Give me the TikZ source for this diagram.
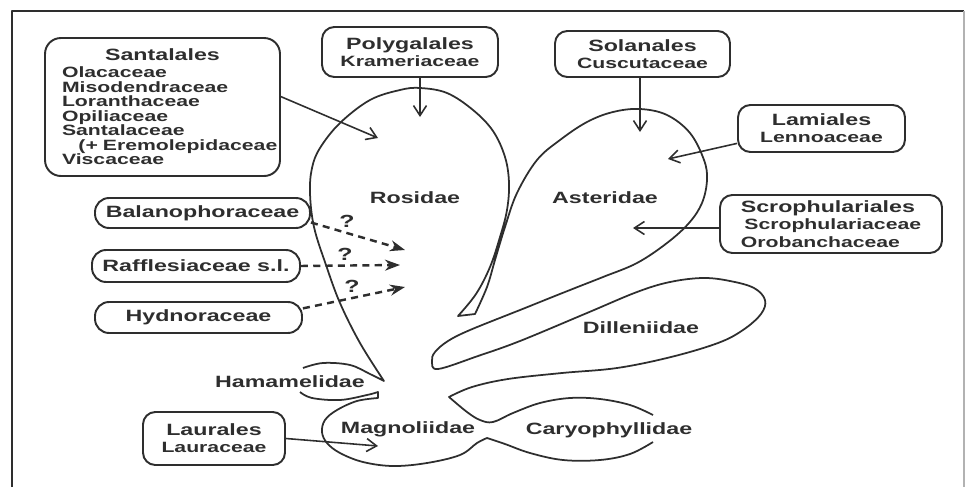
\documentclass[tikz,border=0pt]{standalone}
\usepackage{fontspec}
\usepackage{tikz}
\usetikzlibrary{arrows.meta}
\newfontfamily\botfont{Liberation Sans}[FakeStretch=1.42]
\colorlet{ink}{black!82}
\newcommand{\ordr}[1]{{\fontsize{9.3}{9.8}\selectfont #1}}

\begin{document}
\begin{tikzpicture}[x=0.02cm, y=-0.02cm, line join=round,
    taxbox/.style={rectangle, rounded corners=7pt, draw=ink, line width=1.1pt,
        inner sep=0pt, align=center, text=ink,
        font=\botfont\bfseries\fontsize{8.5}{9.8}\selectfont},
    famline/.style={taxbox, rounded corners=8pt,
        font=\botfont\bfseries\fontsize{9.3}{9.8}\selectfont},
    subclass/.style={text=ink, inner sep=0pt,
        font=\botfont\bfseries\fontsize{9.3}{10}\selectfont},
    query/.style={text=ink, inner sep=0pt,
        font=\botfont\bfseries\fontsize{10}{10}\selectfont},
    cladeline/.style={draw=ink, line width=1pt},
    arr/.style={-{Straight Barb[length=2mm,width=2.6mm]}, draw=ink, line width=0.9pt},
    maybe/.style={-{Stealth[length=3mm,width=2.2mm]}, draw=ink, line width=1.4pt,
        dash pattern=on 4pt off 3pt}
]
\useasboundingbox (0,0) rectangle (967,487);

% frame
\draw[ink, line width=1.1pt] (12,487) -- (12,11) -- (964,11);
\draw[black!30, line width=0.8pt] (964,11) -- (964,487);

% outline of the subclasses
\draw[cladeline] plot[smooth, tension=0.6] coordinates {(303,368) (323,363) (350,365) (370,374) (384,381)}
  -- plot[smooth, tension=0.6] coordinates {(384,381) (360,343) (340,303) (326,265) (314,227) (310,193)
     (312,168) (320,148) (340,123) (370,100) (400,90) (420,88) (447,93) (473,110) (493,131)
     (505,157) (509,183) (507,210) (500,237) (490,267) (476,294) (458,316)}
  -- (475,314)
  -- plot[smooth, tension=0.6] coordinates {(475,314) (487,287) (495,260) (505,227) (517,193)
     (537,160) (560,140) (587,122) (613,112) (640,109) (667,115) (690,133) (704,160) (707,180)
     (702,203) (689,223) (667,243) (637,263) (603,277) (570,290) (520,310) (470,330) (448,341)
     (435,352) (432,361) (438,369) (478,356) (520,341) (587,313) (637,292) (670,282) (703,278)
     (730,281) (754,288) (765,300) (761,314) (743,330) (718,343) (671,357) (617,368) (562,373)
     (508,379) (472,387) (449,397)}
  -- plot[smooth, tension=0.6] coordinates {(449,397) (467,412) (480,420) (493,422) (513,413)
     (540,403) (570,398) (600,399) (630,405) (653,415)};
\draw[cladeline] plot[smooth, tension=0.6] coordinates {(653,442) (630,454) (600,460) (563,460)
     (530,453) (505,444) (487,438)}
  -- plot[smooth, tension=0.6] coordinates {(487,438) (477,443) (460,455) (427,463) (393,466)
     (363,462) (340,453) (327,443) (322,432) (325,420) (337,410) (357,401) (378,398)}
  -- (378,392)
  -- plot[smooth, tension=0.6] coordinates {(378,392) (367,395) (340,400) (312,398) (300,392)};

% subclass names
\node[subclass] (rosidae) at (415,198) {Rosidae};
\node[subclass] (asteridae) at (605,198) {Asteridae};
\node[subclass] (dilleniidae) at (641,328) {Dilleniidae};
\node[subclass] (hamamelidae) at (290,382) {Hamamelidae};
\node[subclass] (magnoliidae) at (408,429) {Magnoliidae};
\node[subclass] (caryophyllidae) at (609,430) {Caryophyllidae};

% orders and families
\node[taxbox, minimum width=4.7cm, minimum height=2.76cm, rounded corners=9pt,
    align=left, text width=4.02cm, font=\botfont\bfseries\fontsize{8.5}{8.3}\selectfont]
    (santalales) at (162.5,107)
    {\hfill\ordr{Santalales}\hfill\null\\[1.2pt] Olacaceae\\ Misodendraceae\\ Loranthaceae\\
     Opiliaceae\\ Santalaceae\\ \hspace*{1.1em}\mbox{(+ Eremolepidaceae}\\ Viscaceae};
\node[taxbox, minimum width=3.52cm, minimum height=1cm] (polygalales) at (410,52)
    {\ordr{Polygalales}\\ Krameriaceae};
\node[taxbox, minimum width=3.5cm, minimum height=0.92cm] (solanales) at (642.5,54)
    {\ordr{Solanales}\\ Cuscutaceae};
\node[taxbox, minimum width=3.34cm, minimum height=0.94cm] (lamiales) at (821.5,128.5)
    {\ordr{Lamiales}\\ Lennoaceae};
\node[taxbox, minimum width=4.44cm, minimum height=1.16cm, align=left] (scroph) at (831,224)
    {\ordr{Scrophulariales}\\ \hspace*{2pt}Scrophulariaceae\\ Orobanchaceae};
\node[famline, minimum width=4.3cm, minimum height=0.6cm] (balano) at (202.5,213) {Balanophoraceae};
\node[famline, minimum width=4.16cm, minimum height=0.64cm] (raffles) at (196,266) {Rafflesiaceae s.l.};
\node[famline, minimum width=4.14cm, minimum height=0.62cm] (hydnor) at (198.5,317.5) {Hydnoraceae};
\node[taxbox, minimum width=2.84cm, minimum height=1.06cm] (laurales) at (214,438.5)
    {\ordr{Laurales}\\ Lauraceae};

% arrow targets
\coordinate (rosW) at (378,138);
\coordinate (rosN) at (420,117);
\coordinate (astN) at (640,132);
\coordinate (astE) at (668,159);
\coordinate (astS) at (633,228);
\coordinate (rosQa) at (405,250);
\coordinate (rosQb) at (400,265);
\coordinate (rosQc) at (405,287);
\coordinate (magW) at (378,446);

\node[query] (qa) at (347,221) {?};
\node[query] (qb) at (345,254) {?};
\node[query] (qc) at (352,286) {?};

\draw[arr] (santalales.5) -- (rosW);
\draw[arr] (rosN |- polygalales.south) -- (rosN);
\draw[arr] (astN |- solanales.south) -- (astN);
\draw[arr] (lamiales.190) -- (astE);
\draw[arr] (astS -| scroph.west) -- (astS);
\draw[maybe] (balano.-5) -- (rosQa);
\draw[maybe] (raffles.east) -- (rosQb);
\draw[maybe] (hydnor.5) -- (rosQc);
\draw[arr] (laurales.east) -- (magW);

\end{tikzpicture}
\end{document}
